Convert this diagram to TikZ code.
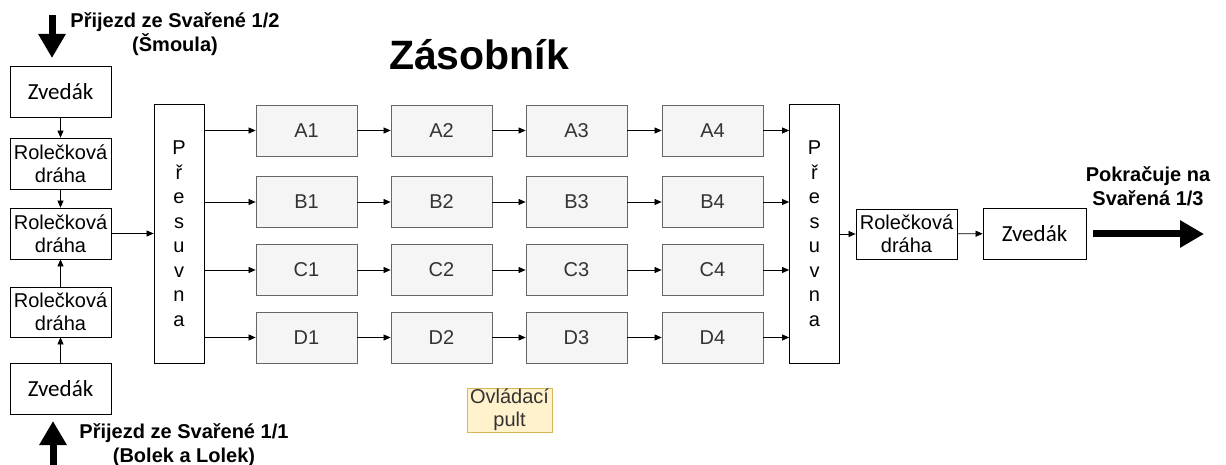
\documentclass[tikz,border=0pt]{standalone}
\usepackage{fontspec}
\setmainfont{Liberation Sans}
\newfontfamily\liftfont{Carlito}
\usetikzlibrary{arrows.meta}

\begin{document}
\begin{tikzpicture}[x=1pt,y=-1pt,
        box/.style={draw=black, line width=0.8pt, inner sep=0pt, minimum width=101pt,
            minimum height=51pt, align=center, font=\fontsize{20}{23}\selectfont},
        cell/.style={box, draw=cellline, fill=cellfill, text=celltext},
        mover/.style={box, minimum width=50pt, minimum height=259pt, font=\fontsize{20}{24.5}\selectfont},
        lift/.style={box, font=\liftfont\fontsize{23}{26}\selectfont},
        flow/.style={-{Triangle[length=7pt,width=6pt]}, line width=0.7pt},
        bigarrow/.style={line width=7pt, -{Triangle[length=24pt,width=26pt]}},
        note/.style={font=\bfseries\fontsize{20}{24}\selectfont, align=center}]
        \definecolor{cellfill}{HTML}{F5F5F5}
        \definecolor{cellline}{HTML}{666666}
        \definecolor{celltext}{HTML}{333333}
        \definecolor{pultfill}{HTML}{FFF2CC}
        \definecolor{pultline}{HTML}{D6B656}
        \useasboundingbox (0,0) rectangle (1226,465);

        % title
        \node[font=\bfseries\fontsize{41}{48}\selectfont] (title) at (479,55) {Zásobník};

        % left column
        \node[lift] (liftT) at (60.5,92) {Zvedák};
        \node[box] (rollA) at (60.5,163.5) {Rolečková\\dráha};
        \node[box] (rollB) at (60.5,233.5) {Rolečková\\dráha};
        \node[box, minimum height=50pt] (rollC) at (60.5,312) {Rolečková\\dráha};
        \node[lift] (liftB) at (60.5,388.5) {Zvedák};
        \draw[flow] (liftT) -- (rollA);
        \draw[flow] (rollA) -- (rollB);
        \draw[flow] (rollC) -- (rollB);
        \draw[flow] (liftB) -- (rollC);

        % incoming
        \coordinate (inT1) at (52,15);
        \coordinate (inT2) at (52,58);
        \draw[bigarrow] (inT1) -- (inT2);
        \node[note] (fromT) at (175,34) {Přijezd ze Svařené 1/2\\(Šmoula)};
        \coordinate (inB1) at (53,466);
        \coordinate (inB2) at (53,421);
        \draw[bigarrow] (inB1) -- (inB2);
        \node[note] (fromB) at (184,445) {Přijezd ze Svařené 1/1\\(Bolek a Lolek)};

        % movers
        \node[mover] (moverL) at (179,233.5) {P\\ř\\e\\s\\u\\v\\n\\a};
        \node[mover] (moverR) at (814.5,233.5) {P\\ř\\e\\s\\u\\v\\n\\a};
        \draw[flow] (rollB) -- (rollB -| moverL.west);

        % buffer lanes
        \foreach \r/\y in {A/130.5,B/202,C/270,D/337.5} {
            \foreach \c/\x in {1/306.5,2/441.5,3/576.5,4/712.5}
                \node[cell] (\r\c) at (\x,\y) {\r\c};
            \draw[flow] (moverL.east |- \r1) -- (\r1);
            \draw[flow] (\r1) -- (\r2);
            \draw[flow] (\r2) -- (\r3);
            \draw[flow] (\r3) -- (\r4);
            \draw[flow] (\r4) -- (\r4 -| moverR.west);
        }

        % right side
        \node[box, minimum height=50pt] (rollR) at (906.5,234) {Rolečková\\dráha};
        \node[lift, minimum width=103pt] (liftR) at (1034.5,233.5) {Zvedák};
        \draw[flow] (moverR.east |- rollR) -- (rollR);
        \draw[flow] (rollR) -- (liftR);
        \coordinate (out1) at (1093,234);
        \coordinate (out2) at (1204,234);
        \draw[bigarrow] (out1) -- (out2);
        \node[note] (toR) at (1148,186) {Pokračuje na\\Svařená 1/3};

        % control desk
        \node[box, draw=pultline, fill=pultfill, text=celltext, minimum width=85pt,
            minimum height=44pt] (pult) at (509.5,410) {Ovládací\\pult};
    \end{tikzpicture}
\end{document}
